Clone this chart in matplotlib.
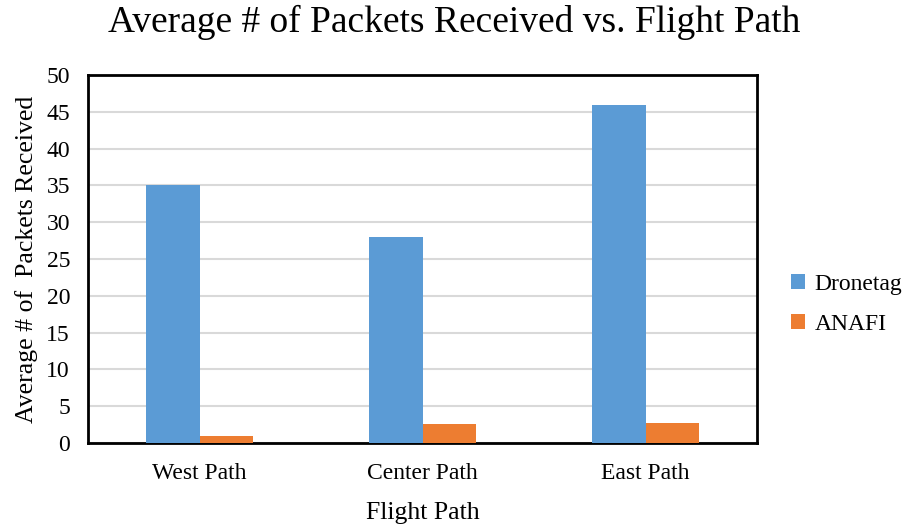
import numpy as np
import matplotlib.pyplot as plt

plt.rcParams['font.family'] = ['Liberation Serif', 'DejaVu Serif']

# Data
paths = ['West Path', 'Center Path', 'East Path']
dronetag = [35, 28, 46]
anafi = [1.0, 2.6, 2.7]

fig = plt.figure(figsize=(9.08, 5.25), dpi=100)
ax = fig.add_axes([0.097, 0.156, 0.737, 0.701])

x = np.arange(len(paths))
w = 0.239
ax.bar(x - w / 2, dronetag, width=w, color='#5B9BD5', label='Dronetag', zorder=3)
ax.bar(x + w / 2, anafi, width=w, color='#ED7D31', label='ANAFI', zorder=3)

ax.set_xlim(-0.5, 2.5)
ax.set_ylim(0, 50)
ax.set_yticks(np.arange(0, 51, 5))
ax.set_xticks(x)
ax.set_xticklabels(paths)
ax.tick_params(axis='both', length=0, labelsize=17)
ax.tick_params(axis='x', pad=14)
ax.tick_params(axis='y', pad=13)
ax.grid(axis='y', color='#d9d9d9', linewidth=1.5, zorder=0)
for s in ax.spines.values():
    s.set_linewidth(2)
    s.set_color('black')

fig.text(0.5, 0.957, 'Average # of Packets Received vs. Flight Path',
         fontsize=27, ha='center', va='center')
ax.set_xlabel('Flight Path', fontsize=18.5, labelpad=13)
ax.set_ylabel('Average # of  Packets Received', fontsize=18.5, labelpad=6)

ax.legend(loc='center left', bbox_to_anchor=(1.019, 0.377), frameon=False,
          fontsize=17, handlelength=0.6, handleheight=0.6, labelspacing=0.8,
          handletextpad=0.4)

fig.savefig('out.png', dpi=100)
